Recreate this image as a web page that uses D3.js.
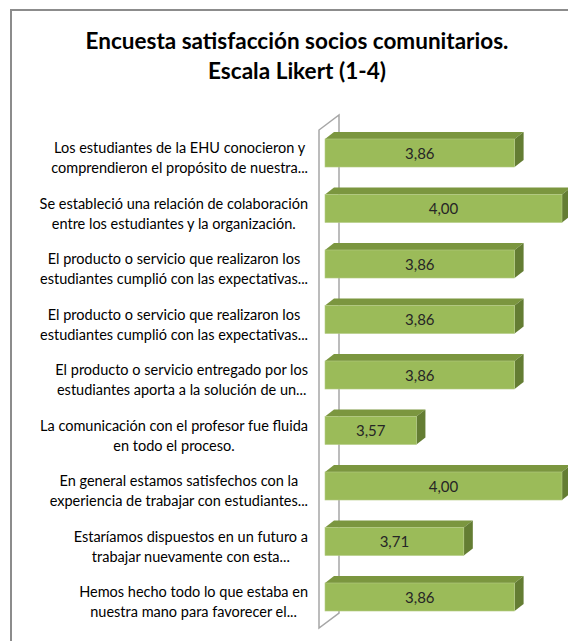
<!DOCTYPE html>
<html>
<head>
<meta charset="utf-8">
<script src="https://cdn.jsdelivr.net/npm/d3@7"></script>
<style>
    body { margin: 0; background: #fff; }
    svg { display: block; }
</style>
</head>
<body>
<div id="chart"></div>
<script>
// chart values
const titleLines = ['Encuesta satisfacción socios comunitarios.', 'Escala Likert (1-4)'];
const categories = [
    ['Los estudiantes de la EHU conocieron y', 'comprendieron el propósito de nuestra...'],
    ['Se estableció una relación de colaboración', 'entre los estudiantes y la organización.'],
    ['El producto o servicio que realizaron los', 'estudiantes cumplió con las expectativas...'],
    ['El producto o servicio que realizaron los', 'estudiantes cumplió con las expectativas...'],
    ['El producto o servicio entregado por los', 'estudiantes aporta a la solución de un...'],
    ['La comunicación con el profesor fue fluida', 'en todo el proceso.'],
    ['En general estamos satisfechos  con la', 'experiencia de trabajar con estudiantes...'],
    ['Estaríamos dispuestos en un futuro a', 'trabajar nuevamente con esta...'],
    ['Hemos hecho todo lo que estaba en', 'nuestra mano para favorecer el...']
];
const values = [3.86, 4.00, 3.86, 3.86, 3.86, 3.57, 4.00, 3.71, 3.86];
const axisDomain = [3.3, 4.0];

const width = 568, height = 641;
const font = 'Lato, "Open Sans", sans-serif';

const svg = d3.select('#chart').append('svg')
    .attr('width', width)
    .attr('height', height);

// chart area frame (only top/left edges fall inside the picture)
svg.append('rect')
    .attr('x', 11).attr('y', 10)
    .attr('width', 600).attr('height', 700)
    .attr('fill', '#fff')
    .attr('stroke', '#8c8c8c')
    .attr('stroke-width', 2);

// title, each line fitted to the width it has in the picture
const title = svg.append('g').attr('font-family', font).attr('font-weight', 'bold')
    .attr('fill', '#000').attr('text-anchor', 'middle');
const titleWidths = [423, 178];
titleLines.forEach((t, i) => {
    const el = title.append('text')
        .attr('x', 297)
        .attr('y', 49 + i * 30)
        .attr('font-size', 20)
        .text(t);
    const len = el.node().getComputedTextLength();
    el.attr('font-size', 20 * titleWidths[i] / len);
});

// scales
const x = d3.scaleLinear().domain(axisDomain).range([325, 562]);
const y = d3.scalePoint().domain(d3.range(values.length)).range([153, 597]);
const barH = y.step() * 0.505;
const depth = { dx: 9, dy: -7 };
const wall = { dx: 20, dy: -15 };

// back wall outline (parallelogram)
const wx = x(axisDomain[0]) - 6;
const wTop = y(0) - 23, wBot = y(values.length - 1) + 31;
svg.append('path')
    .attr('d', `M${wx},${wBot} L${wx},${wTop} L${wx + wall.dx},${wTop + wall.dy} L${wx + wall.dx},${wBot + wall.dy} Z`)
    .attr('fill', 'none')
    .attr('stroke', '#a6a6a6')
    .attr('stroke-width', 1.5);

// bars (front, top and side faces)
const bars = svg.append('g').selectAll('g.bar')
    .data(values)
    .join('g')
    .classed('bar', true);

bars.append('path')
    .attr('d', (d, i) => {
        const x0 = x(axisDomain[0]), x1 = x(d), t = y(i) - barH / 2;
        return `M${x0},${t} L${x0 + depth.dx},${t + depth.dy} L${x1 + depth.dx},${t + depth.dy} L${x1},${t} Z`;
    })
    .attr('fill', '#7b963f');

bars.append('path')
    .attr('d', (d, i) => {
        const x1 = x(d), t = y(i) - barH / 2, b = t + barH;
        return `M${x1},${t} L${x1 + depth.dx},${t + depth.dy} L${x1 + depth.dx},${b + depth.dy} L${x1},${b} Z`;
    })
    .attr('fill', '#647d33');

bars.append('rect')
    .attr('x', x(axisDomain[0]))
    .attr('y', (d, i) => y(i) - barH / 2)
    .attr('width', d => x(d) - x(axisDomain[0]))
    .attr('height', barH)
    .attr('fill', '#9bbb59')
    .attr('stroke', '#b5cc85')
    .attr('stroke-width', 0.6);

// value labels
bars.append('text')
    .attr('x', d => (x(axisDomain[0]) + x(d)) / 2)
    .attr('y', (d, i) => y(i) + 5.5)
    .attr('text-anchor', 'middle')
    .attr('font-family', font)
    .attr('font-size', 15)
    .attr('fill', '#262626')
    .text(d => d.toFixed(2).replace('.', ','));

// category labels: lines centred within a block right-aligned to the axis
const labelRight = 308;
const labels = svg.append('g').attr('font-family', font).attr('font-size', 14.5).attr('fill', '#000');
categories.forEach((lines, i) => {
    const g = labels.append('g');
    const texts = lines.map((t, j) => g.append('text')
        .attr('y', y(i) + 10 + (j - (lines.length - 1) / 2) * 20)
        .attr('text-anchor', 'middle')
        .text(t));
    const maxW = d3.max(texts, t => t.node().getComputedTextLength());
    texts.forEach(t => t.attr('x', labelRight - maxW / 2));
});
</script>
</body>
</html>
